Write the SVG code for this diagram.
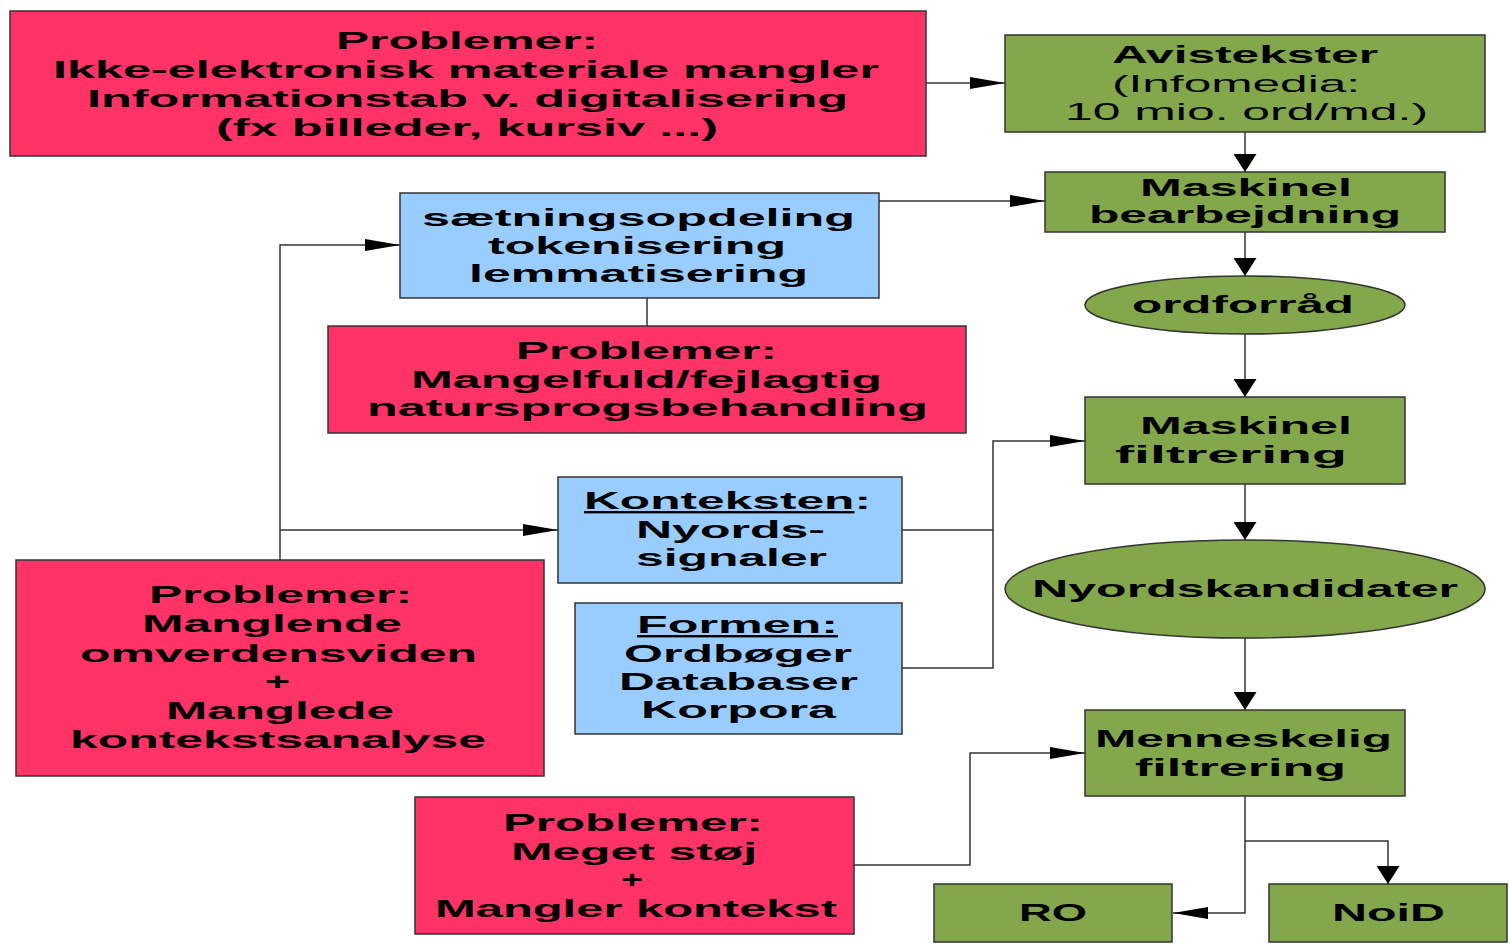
<svg xmlns="http://www.w3.org/2000/svg" width="1509" height="950" viewBox="0 0 1509 950">
<style>
.red{fill:#ff3366;stroke:#333;stroke-width:1.5}
.grn{fill:#83a84b;stroke:#333;stroke-width:1.5}
.blu{fill:#99ccff;stroke:#333;stroke-width:1.5}
text{font-family:"Liberation Sans",Arial,sans-serif;font-size:24px;font-weight:bold;fill:#000}
text.r{font-weight:normal}
.u{text-decoration:underline}
.c{fill:none;stroke:#333;stroke-width:1.5}
</style>
<defs>
<marker id="ah" viewBox="0 0 35 12" markerWidth="35" markerHeight="12" refX="35" refY="6" orient="auto" markerUnits="userSpaceOnUse"><path d="M0,0 L35,6 L0,12 z" fill="#000"/></marker>
<marker id="av" viewBox="0 0 18 23" markerWidth="18" markerHeight="23" refX="18" refY="11.5" orient="auto" markerUnits="userSpaceOnUse"><path d="M0,0 L18,11.5 L0,23 z" fill="#000"/></marker>
</defs>
<rect width="1509" height="950" fill="#fff"/>
<g id="connectors">
<path class="c" d="M926,83 H1005" marker-end="url(#ah)"/>
<path class="c" d="M1245,132 V172" marker-end="url(#av)"/>
<path class="c" d="M879,201 H1045" marker-end="url(#ah)"/>
<path class="c" d="M1245,232 V276" marker-end="url(#av)"/>
<path class="c" d="M1245,334 V397" marker-end="url(#av)"/>
<path class="c" d="M1245,484 V540" marker-end="url(#av)"/>
<path class="c" d="M1245,638 V710" marker-end="url(#av)"/>
<path class="c" d="M1245,796 V913 H1173" marker-end="url(#ah)"/>
<path class="c" d="M1245,841 H1388 V884" marker-end="url(#av)"/>
<path class="c" d="M854,865 H970 V753 H1085" marker-end="url(#ah)"/>
<path class="c" d="M902,530 H993 V441 H1085" marker-end="url(#ah)"/>
<path class="c" d="M902,668 H993 V530"/>
<path class="c" d="M280,560 V245 H400" marker-end="url(#ah)"/>
<path class="c" d="M280,530 H558" marker-end="url(#ah)"/>
<path class="c" d="M647,298 V326"/>
</g>
<g id="prob1">
<rect class="red" x="10" y="11" width="916" height="145"/>
<text x="336" y="49" textLength="262" lengthAdjust="spacingAndGlyphs">Problemer:</text>
<text x="53" y="78" textLength="826" lengthAdjust="spacingAndGlyphs">Ikke-elektronisk materiale mangler</text>
<text x="87" y="107" textLength="761" lengthAdjust="spacingAndGlyphs">Informationstab v. digitalisering</text>
<text x="216" y="136" textLength="502" lengthAdjust="spacingAndGlyphs">(fx billeder, kursiv ...)</text>
</g>
<g id="avis">
<rect class="grn" x="1005" y="35" width="480" height="97"/>
<text x="1112" y="63" textLength="266" lengthAdjust="spacingAndGlyphs">Avistekster</text>
<text class="r" x="1112" y="92" textLength="248" lengthAdjust="spacingAndGlyphs">(Infomedia:</text>
<text class="r" x="1065" y="120" textLength="363" lengthAdjust="spacingAndGlyphs">10 mio. ord/md.)</text>
</g>
<g id="bearb">
<rect class="grn" x="1045" y="172" width="400" height="60"/>
<text x="1140" y="196" textLength="212" lengthAdjust="spacingAndGlyphs">Maskinel</text>
<text x="1089" y="223" textLength="312" lengthAdjust="spacingAndGlyphs">bearbejdning</text>
</g>
<g id="ordforraad">
<ellipse class="grn" cx="1245" cy="305" rx="160" ry="29"/>
<text x="1132" y="313" textLength="222" lengthAdjust="spacingAndGlyphs">ordforråd</text>
</g>
<g id="nlp">
<rect class="blu" x="400" y="193" width="479" height="105"/>
<text x="422" y="226" textLength="433" lengthAdjust="spacingAndGlyphs">sætningsopdeling</text>
<text x="488" y="254" textLength="298" lengthAdjust="spacingAndGlyphs">tokenisering</text>
<text x="469" y="282" textLength="339" lengthAdjust="spacingAndGlyphs">lemmatisering</text>
</g>
<g id="prob2">
<rect class="red" x="328" y="326" width="638" height="107"/>
<text x="516" y="359" textLength="261" lengthAdjust="spacingAndGlyphs">Problemer:</text>
<text x="411" y="388" textLength="471" lengthAdjust="spacingAndGlyphs">Mangelfuld/fejlagtig</text>
<text x="367" y="416" textLength="561" lengthAdjust="spacingAndGlyphs">natursprogsbehandling</text>
</g>
<g id="filtr">
<rect class="grn" x="1085" y="397" width="320" height="87"/>
<text x="1140" y="434" textLength="212" lengthAdjust="spacingAndGlyphs">Maskinel</text>
<text x="1115" y="463" textLength="232" lengthAdjust="spacingAndGlyphs">filtrering</text>
</g>
<g id="kandidater">
<ellipse class="grn" cx="1245" cy="589" rx="240" ry="49"/>
<text x="1032" y="597" textLength="426" lengthAdjust="spacingAndGlyphs">Nyordskandidater</text>
</g>
<g id="kontekst">
<rect class="blu" x="558" y="477" width="344" height="106"/>
<text x="584" y="509" textLength="287" lengthAdjust="spacingAndGlyphs"><tspan class="u">Konteksten</tspan>:</text>
<text x="636" y="538" textLength="189" lengthAdjust="spacingAndGlyphs">Nyords-</text>
<text x="636" y="566" textLength="191" lengthAdjust="spacingAndGlyphs">signaler</text>
</g>
<g id="formen">
<rect class="blu" x="575" y="603" width="327" height="131"/>
<text class="u" x="637" y="633" textLength="201" lengthAdjust="spacingAndGlyphs">Formen:</text>
<text x="624" y="662" textLength="228" lengthAdjust="spacingAndGlyphs">Ordbøger</text>
<text x="619" y="690" textLength="239" lengthAdjust="spacingAndGlyphs">Databaser</text>
<text x="641" y="718" textLength="195" lengthAdjust="spacingAndGlyphs">Korpora</text>
</g>
<g id="prob3">
<rect class="red" x="16" y="560" width="528" height="216"/>
<text x="149" y="603" textLength="263" lengthAdjust="spacingAndGlyphs">Problemer:</text>
<text x="142" y="632" textLength="260" lengthAdjust="spacingAndGlyphs">Manglende</text>
<text x="80" y="662" textLength="397" lengthAdjust="spacingAndGlyphs">omverdensviden</text>
<text x="265" y="690" textLength="25" lengthAdjust="spacingAndGlyphs">+</text>
<text x="166" y="719" textLength="228" lengthAdjust="spacingAndGlyphs">Manglede</text>
<text x="70" y="748" textLength="416" lengthAdjust="spacingAndGlyphs">kontekstsanalyse</text>
</g>
<g id="menneskelig">
<rect class="grn" x="1085" y="710" width="320" height="86"/>
<text x="1095" y="747" textLength="297" lengthAdjust="spacingAndGlyphs">Menneskelig</text>
<text x="1135" y="776" textLength="211" lengthAdjust="spacingAndGlyphs">filtrering</text>
</g>
<g id="prob4">
<rect class="red" x="415" y="797" width="439" height="137"/>
<text x="503" y="831" textLength="260" lengthAdjust="spacingAndGlyphs">Problemer:</text>
<text x="511" y="860" textLength="246" lengthAdjust="spacingAndGlyphs">Meget støj</text>
<text x="621" y="888" textLength="22" lengthAdjust="spacingAndGlyphs">+</text>
<text x="435" y="917" textLength="402" lengthAdjust="spacingAndGlyphs">Mangler kontekst</text>
</g>
<g id="ro">
<rect class="grn" x="934" y="884" width="238" height="58"/>
<text x="1019" y="921" textLength="68" lengthAdjust="spacingAndGlyphs">RO</text>
</g>
<g id="noid">
<rect class="grn" x="1269" y="884" width="238" height="58"/>
<text x="1332" y="921" textLength="113" lengthAdjust="spacingAndGlyphs">NoiD</text>
</g>
</svg>
